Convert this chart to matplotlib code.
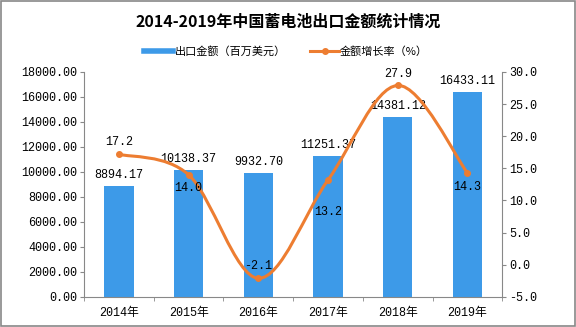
import numpy as np
import matplotlib
matplotlib.use('Agg')
import matplotlib.pyplot as plt
from matplotlib.path import Path
from matplotlib.patches import PathPatch, Rectangle
from matplotlib.lines import Line2D

plt.rcParams['font.family'] = ['Noto Sans CJK SC', 'DejaVu Sans']
num_font = ['Liberation Mono', 'Noto Sans CJK SC']

years = ['2014年', '2015年', '2016年', '2017年', '2018年', '2019年']
export_value = [8894.17, 10138.37, 9932.70, 11251.37, 14381.12, 16433.11]
growth_rate = [17.2, 14.0, -2.1, 13.2, 27.9, 14.3]
rate_label_below = [False, True, False, True, False, True]

bar_color = '#3D9AE8'
line_color = '#ED7D31'

fig = plt.figure(figsize=(5.76, 3.27), dpi=100)
fig.patches.append(Rectangle((0.001, 0.002), 0.997, 0.995, transform=fig.transFigure,
                             fill=False, edgecolor='#888888', linewidth=1.2))

ax = fig.add_axes([0.146, 0.092, 0.726, 0.688])
x = np.arange(len(years))
ax.bar(x, export_value, width=0.42, color=bar_color, zorder=2)
ax.set_xlim(-0.5, len(years) - 0.5)
ax.set_ylim(0, 18000)
ax.set_yticks(np.arange(0, 18001, 2000))
ax.set_yticklabels([f'{v:.2f}' for v in np.arange(0, 18001, 2000)], fontsize=8.5, family=num_font)
ax.set_xticks(x)
ax.set_xticklabels(years, fontsize=8.5, family=num_font)
ax.set_xticks(np.arange(-0.5, len(years), 1), minor=True)
ax.tick_params(axis='x', which='major', length=0, pad=7)
ax.tick_params(axis='x', which='minor', length=3, color='#888888')
ax.tick_params(axis='y', length=3, color='#888888', pad=2)
for side in ['top', 'right']:
    ax.spines[side].set_visible(False)
for side in ['left', 'bottom']:
    ax.spines[side].set_color('#888888')

for xi, v in zip(x, export_value):
    ax.text(xi, v + 400, f'{v:.2f}', ha='center', va='bottom', fontsize=8.5, family=num_font)

ax2 = ax.twinx()
ax2.set_ylim(-5, 30)
ax2.set_yticks(np.arange(-5, 31, 5))
ax2.set_yticklabels([f'{v:.1f}' for v in np.arange(-5, 31, 5)], fontsize=8.5, family=num_font)
ax2.tick_params(axis='y', length=3, color='#888888', pad=2)
for side in ['top', 'left', 'bottom']:
    ax2.spines[side].set_visible(False)
ax2.spines['right'].set_color('#888888')

# smooth curve through the points (Catmull-Rom as cubic Bezier segments)
pts = np.column_stack([x, growth_rate]).astype(float)
verts = [tuple(pts[0])]
codes = [Path.MOVETO]
n = len(pts)
for i in range(n - 1):
    p0 = pts[max(i - 1, 0)]
    p1 = pts[i]
    p2 = pts[i + 1]
    p3 = pts[min(i + 2, n - 1)]
    c1 = p1 + (p2 - p0) / 6.0
    c2 = p2 - (p3 - p1) / 6.0
    verts += [tuple(c1), tuple(c2), tuple(p2)]
    codes += [Path.CURVE4] * 3
ax2.add_patch(PathPatch(Path(verts, codes), fill=False, edgecolor=line_color,
                        linewidth=2.2, zorder=3))
ax2.plot(x, growth_rate, 'o', color=line_color, markersize=4, zorder=4)

for xi, r, below in zip(x, growth_rate, rate_label_below):
    if below:
        off = 4.0 if r < 13.5 else 1.2
        ax2.text(xi, r - off, f'{r:.1f}', ha='center', va='top', fontsize=8.5, family=num_font)
    else:
        ax2.text(xi, r + 0.9, f'{r:.1f}', ha='center', va='bottom', fontsize=8.5, family=num_font)

fig.text(0.5, 0.933, '2014-2019年中国蓄电池出口金额统计情况', ha='center', va='center',
         fontsize=11.5, fontweight='bold')

handles = [Line2D([], [], color=bar_color, linewidth=4),
           Line2D([], [], color=line_color, linewidth=2.2, marker='o', markersize=4)]
fig.legend(handles, ['出口金额（百万美元）', '金额增长率（%）'], loc='center',
           bbox_to_anchor=(0.497, 0.844), ncol=2, frameon=False, fontsize=8,
           handlelength=2.6, columnspacing=2.2, handletextpad=0.1)

fig.savefig('out.png', dpi=100)
